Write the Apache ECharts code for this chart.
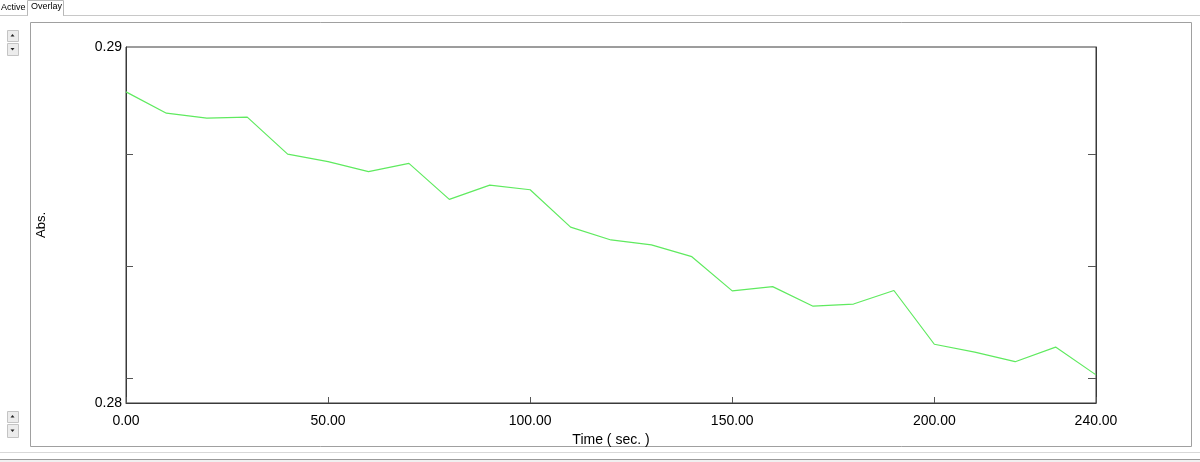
<!DOCTYPE html>
<html>
<head>
<meta charset="utf-8">
<script src="https://cdn.jsdelivr.net/npm/echarts@6/dist/echarts.min.js"></script>
<style>
html,body{margin:0;padding:0;background:#fff;}
#chart{width:1200px;height:462px;}
</style>
</head>
<body>
<div id="chart"></div>
<script>
// ---- data ----
const timeSec = [0,10,20,30,40,50,60,70,80,90,100,110,120,130,140,150,160,170,180,190,200,210,220,230,240];
const absValues = [0.28874,0.28814,0.28800,0.28803,0.28699,0.28678,0.28650,0.28673,0.28572,0.28612,0.28599,0.28494,0.28458,0.28444,0.28411,0.28315,0.28327,0.28272,0.28278,0.28316,0.28165,0.28143,0.28116,0.28157,0.28079];
const xTickLabels = [0,50,100,150,200,240];
const yTickLabels = [0.28,0.29];
const yTickMarks = [0.28070,0.28385,0.28700];
const tabLabels = ['Active','Overlay'];
const xTitle = 'Time ( sec. )';
const yTitle = 'Abs.';

const FONT = '"Liberation Sans", Arial, sans-serif';
const seriesData = timeSec.map((t,i)=>[t,absValues[i]]);

function btn(x,y,w,h,up){
  const cx = x + w/2, cy = y + h/2;
  const pts = up ? [[cx-2,cy+1],[cx+2,cy+1],[cx,cy-1.5]] : [[cx-2,cy-1],[cx+2,cy-1],[cx,cy+1.5]];
  return [
    {type:'rect',shape:{x:x+0.5,y:y+0.5,width:w,height:h},style:{fill:'#ececec',stroke:'#c4c4c4',lineWidth:1}},
    {type:'polygon',shape:{points:pts},style:{fill:'#222'}}
  ];
}

const chart = echarts.init(document.getElementById('chart'));
chart.setOption({
  animation:false,
  backgroundColor:'#fff',
  grid:{left:126,right:104,top:47,bottom:59,show:true,borderColor:'#3a3a3a',borderWidth:1,containLabel:false},
  xAxis:{
    type:'value',min:0,max:240,
    name:xTitle,nameLocation:'middle',nameGap:28,
    nameTextStyle:{color:'#000',fontFamily:FONT,fontSize:14},
    axisLine:{show:true,lineStyle:{color:'#3a3a3a',width:1}},
    axisTick:{show:true,inside:true,length:6,customValues:xTickLabels,lineStyle:{color:'#555'}},
    axisLabel:{customValues:xTickLabels,margin:11,color:'#000',fontFamily:FONT,fontSize:14,formatter:v=>Number(v).toFixed(2)},
    splitLine:{show:false}
  },
  yAxis:[{
    type:'value',min:0.28,max:0.29,position:'left',
    name:yTitle,nameLocation:'middle',nameGap:78,nameRotate:90,
    nameTextStyle:{color:'#000',fontFamily:FONT,fontSize:13},
    axisLine:{show:true,lineStyle:{color:'#3a3a3a',width:1}},
    axisTick:{show:true,inside:true,length:7,customValues:yTickMarks,lineStyle:{color:'#555'}},
    axisLabel:{customValues:yTickLabels,margin:4,color:'#000',fontFamily:FONT,fontSize:14,formatter:v=>Number(v).toFixed(2)},
    splitLine:{show:false}
  },{
    type:'value',min:0.28,max:0.29,position:'right',
    axisLine:{show:true,lineStyle:{color:'#3a3a3a',width:1}},
    axisTick:{show:true,inside:true,length:8,customValues:yTickMarks,lineStyle:{color:'#555'}},
    axisLabel:{show:false},
    splitLine:{show:false}
  }],
  series:[{
    type:'line',data:seriesData,yAxisIndex:0,
    showSymbol:false,symbol:'none',
    lineStyle:{color:'#5fea5f',width:1.2},
    itemStyle:{color:'#5fea5f'}
  }],
  graphic:[
    // tab bar
    {type:'line',shape:{x1:0,y1:15.5,x2:1200,y2:15.5},style:{stroke:'#c8c8c8',lineWidth:1}},
    {type:'rect',shape:{x:27.5,y:0.5,width:36,height:15},style:{fill:'#fff',stroke:'#b8b8b8',lineWidth:1}},
    {type:'line',shape:{x1:28,y1:15.5,x2:63,y2:15.5},style:{stroke:'#fff',lineWidth:1}},
    {type:'text',x:1,y:8,style:{text:tabLabels[0],fill:'#000',font:'9px "Liberation Sans", Arial, sans-serif',verticalAlign:'middle',align:'left'}},
    {type:'text',x:31,y:7,style:{text:tabLabels[1],fill:'#000',font:'9px "Liberation Sans", Arial, sans-serif',verticalAlign:'middle',align:'left'}},
    // outer frame
    {type:'rect',shape:{x:30.5,y:22.5,width:1161,height:424},style:{fill:'none',stroke:'#a0a0a0',lineWidth:1}},
    // side buttons
    ...btn(7,30,11,11,true),
    ...btn(7,43,11,12,false),
    ...btn(7,411,11,11,true),
    ...btn(7,424,11,13,false),
    // bottom status lines
    {type:'line',shape:{x1:0,y1:452.5,x2:1200,y2:452.5},style:{stroke:'#d8d8d8',lineWidth:1}},
    {type:'rect',shape:{x:0,y:459,width:1200,height:3},style:{fill:'#f0f0f0'}},
    {type:'line',shape:{x1:0,y1:459.5,x2:1200,y2:459.5},style:{stroke:'#9a9a9a',lineWidth:1}}
  ]
});
</script>
</body>
</html>
